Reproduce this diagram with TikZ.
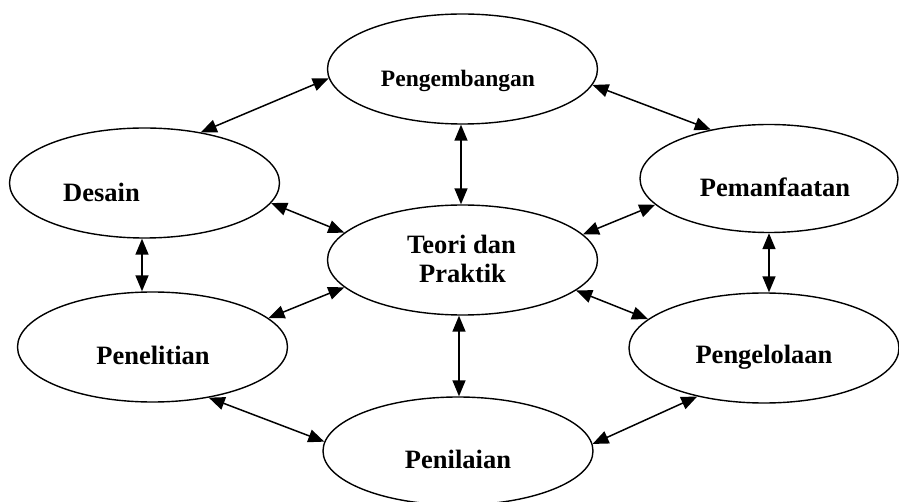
\documentclass[tikz,border=0pt]{standalone}
\usepackage{fontspec}
\setmainfont{Liberation Serif}
\usetikzlibrary{shapes.geometric,arrows.meta}
\tikzset{
  oval/.style={ellipse, draw=black, line width=1.4pt, minimum width=270pt, minimum height=110pt, inner sep=0pt},
  lbl/.style={anchor=base, inner sep=0pt, font=\fontsize{26.5}{30}\selectfont\bfseries},
  link/.style={line width=1.5pt, {Triangle[length=16pt,width=13pt]}-{Triangle[length=16pt,width=13pt]}}
}
\begin{document}
\begin{tikzpicture}[x=1pt,y=-1pt]
\useasboundingbox (0,0) rectangle (899,502);
\fill[white] (0,0) rectangle (899,502);
% ellipses
\node[oval] (P) at (462.5,69) {};
\node[oval] (D) at (144.5,183) {};
\node[oval, minimum width=258pt, minimum height=108pt] (M) at (769,178.5) {};
\node[oval] (T) at (462.5,260) {};
\node[oval] (L) at (152.5,347) {};
\node[oval] (G) at (764,348) {};
\node[oval, minimum height=108pt] (N) at (458,451) {};
% labels
\node[lbl, font=\fontsize{23.5}{27}\selectfont\bfseries] (tP) at (458,87) {Pengembangan};
\node[lbl] (tD) at (101.5,202) {Desain};
\node[lbl] (tM) at (775,197) {Pemanfaatan};
\node[lbl] (tT1) at (461.5,254) {Teori dan};
\node[lbl] (tT2) at (462.5,283) {Praktik};
\node[lbl] (tL) at (153,364) {Penelitian};
\node[lbl] (tG) at (764,363) {Pengelolaan};
\node[lbl] (tN) at (458,468) {Penilaian};
% connectors
\draw[link] (D.42.3) -- (P.184.6);
\draw[link] (P.-7.8) -- (M.140.8);
\draw[link] ([xshift=-1.5pt]P.south) -- ([xshift=-1.5pt]P.south |- T.north);
\draw[link] (D.-9.8) -- (T.167.3);
\draw[link] (M.193.7) -- (T.12.8);
\draw[link] ([xshift=-2.5pt]D.south) -- ([xshift=-2.5pt]D.south |- L.north);
\draw[link] (M.south) -- (M.south |- G.north);
\draw[link] (L.14.1) -- (T.193.6);
\draw[link] (T.-15) -- (G.166.1);
\draw[link] ([xshift=-3.5pt]T.south) -- ([xshift=-3.5pt]T.south |- N.north);
\draw[link] (L.-42.5) -- (N.176.2);
\draw[link] (N.3.4) -- (G.216.7);
\end{tikzpicture}
\end{document}
